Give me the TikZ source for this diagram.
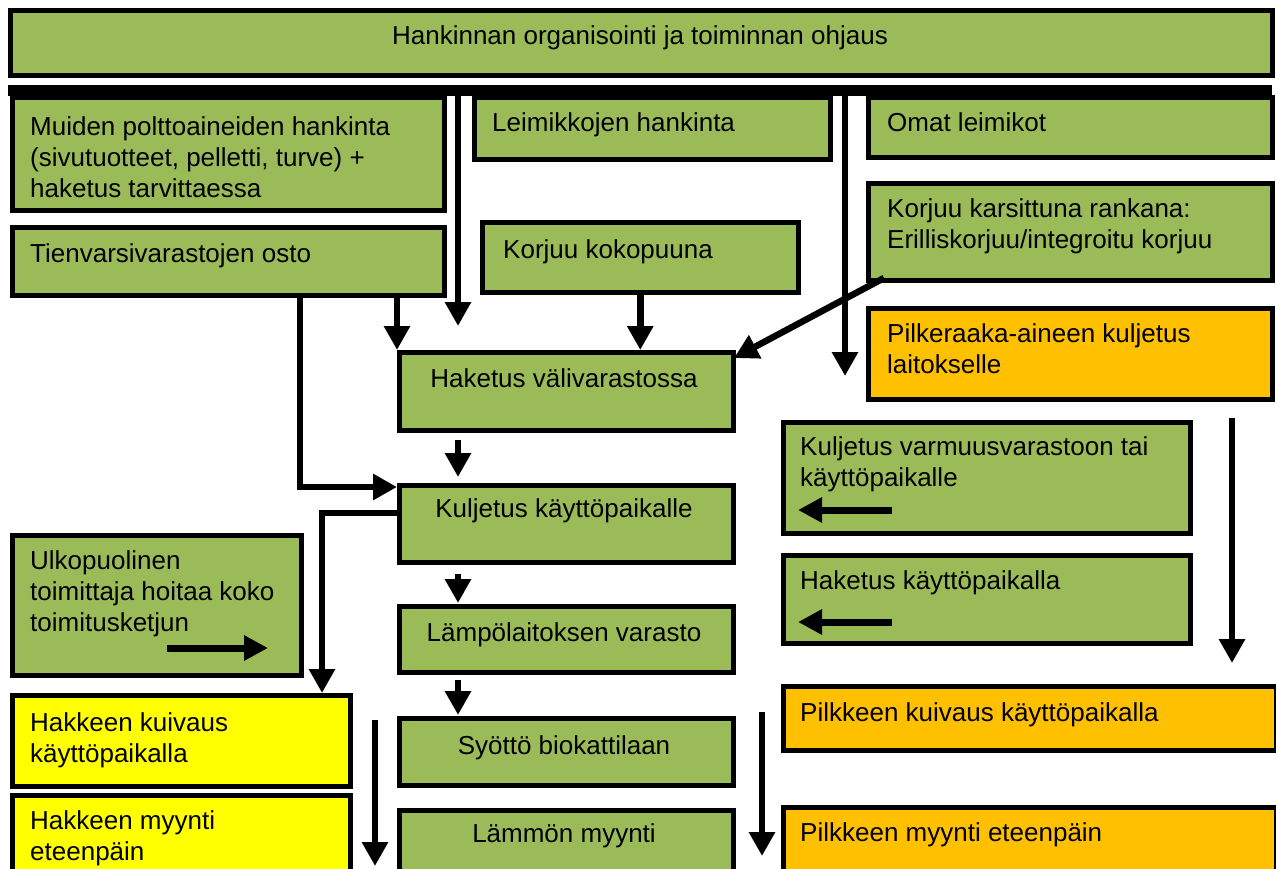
\documentclass[tikz,border=0pt]{standalone}
\usepackage{fontspec}
\setmainfont{Liberation Sans}
\usetikzlibrary{arrows.meta,calc}
\definecolor{gr}{HTML}{9BBB59}
\definecolor{ye}{HTML}{FFFF00}
\definecolor{og}{HTML}{FFC000}
\newcommand{\mlines}[1]{\parbox[t]{420pt}{\raggedright\fontsize{26}{31}\selectfont #1}}
\begin{document}
\begin{tikzpicture}[x=1pt,y=-1pt,
  box/.style={draw=black, line width=4.5pt, inner sep=0pt, anchor=north west},
  gbox/.style={box, fill=gr},
  ybox/.style={box, fill=ye},
  obox/.style={box, fill=og},
  txt/.style={inner sep=0pt, anchor=base west, font=\fontsize{26}{31}\selectfont},
  ctxt/.style={txt, anchor=base},
  arr/.style={line width=6.5pt, -{Triangle[width=25pt,length=24pt]}},
  iarr/.style={line width=7pt, -{Triangle[width=24pt,length=24pt]}},
]
\useasboundingbox (0,0) rectangle (1276,868);
\clip (0,0) rectangle (1276,868);

% boxes
\node[gbox, minimum width=1262pt, minimum height=65pt] (top) at (8,8) {};
\node[fill=black, inner sep=0pt, anchor=north west, minimum width=1264pt, minimum height=11pt] (bar) at (8,85) {};
\node[gbox, minimum width=432pt, minimum height=113pt] (muiden) at (10,95) {};
\node[gbox, minimum width=356pt, minimum height=62pt] (leim) at (472,95) {};
\node[gbox, minimum width=404pt, minimum height=60pt] (omat) at (866,95) {};
\node[gbox, minimum width=432pt, minimum height=68pt] (tien) at (10,225) {};
\node[gbox, minimum width=316pt, minimum height=70pt] (kk) at (480,220) {};
\node[gbox, minimum width=404pt, minimum height=97pt] (kars) at (866,181) {};
\node[obox, minimum width=404pt, minimum height=91pt] (pilk) at (866,306) {};
\node[gbox, minimum width=334pt, minimum height=78pt] (hv) at (397,350) {};
\node[gbox, minimum width=334pt, minimum height=77pt] (kulj) at (397,483) {};
\node[gbox, minimum width=334pt, minimum height=66pt] (lampo) at (397,604) {};
\node[gbox, minimum width=334pt, minimum height=67pt] (syotto) at (397,716) {};
\node[gbox, minimum width=334pt, minimum height=80pt] (lammon) at (397,808) {};
\node[gbox, minimum width=289pt, minimum height=140pt] (ulko) at (10,533) {};
\node[ybox, minimum width=338pt, minimum height=91pt] (hkk) at (10,693) {};
\node[ybox, minimum width=338pt, minimum height=90pt] (hkm) at (10,793) {};
\node[gbox, minimum width=407pt, minimum height=111pt] (kv) at (781,420) {};
\node[gbox, minimum width=407pt, minimum height=88pt] (hkp) at (781,553) {};
\node[obox, minimum width=493pt, minimum height=64pt] (pk) at (781,684) {};
\node[obox, minimum width=493pt, minimum height=80pt] (pm) at (781,805) {};

% texts
\node[ctxt] (ttop) at (640,44) {Hankinnan organisointi ja toiminnan ohjaus};
\node[txt] (tmuiden) at (30,135) {\mlines{Muiden polttoaineiden hankinta\\(sivutuotteet, pelletti, turve) +\\haketus tarvittaessa}};
\node[txt] (tleim) at (492,131) {Leimikkojen hankinta};
\node[txt] (tomat) at (887,131) {Omat leimikot};
\node[txt] (ttien) at (30,262) {Tienvarsivarastojen osto};
\node[txt] (tkk) at (503,258) {Korjuu kokopuuna};
\node[txt] (tkars) at (887,217) {\mlines{Korjuu karsittuna rankana:\\Erilliskorjuu/integroitu korjuu}};
\node[txt] (tpilk) at (887,342) {\mlines{Pilkeraaka-aineen kuljetus\\laitokselle}};
\node[ctxt] (thv) at (564,387) {Haketus välivarastossa};
\node[ctxt] (tkulj) at (564,517) {Kuljetus käyttöpaikalle};
\node[ctxt] (tlampo) at (564,641) {Lämpölaitoksen varasto};
\node[ctxt] (tsyotto) at (564,754) {Syöttö biokattilaan};
\node[ctxt] (tlammon) at (564,842) {Lämmön myynti};
\node[txt] (tulko) at (30,569) {\mlines{Ulkopuolinen\\toimittaja hoitaa koko\\toimitusketjun}};
\node[txt] (thkk) at (30,731) {\mlines{Hakkeen kuivaus\\käyttöpaikalla}};
\node[txt] (thkm) at (30,829) {\mlines{Hakkeen myynti\\eteenpäin}};
\node[txt] (tkv) at (800,455) {\mlines{Kuljetus varmuusvarastoon tai\\käyttöpaikalle}};
\node[txt] (thkp) at (800,589) {Haketus käyttöpaikalla};
\node[txt] (tpk) at (800,721) {Pilkkeen kuivaus käyttöpaikalla};
\node[txt] (tpm) at (800,841) {Pilkkeen myynti eteenpäin};

% free-end coordinates
\coordinate (e1) at (458,326);
\coordinate (e2) at (845,376);
\coordinate (c4) at (300,487);
\coordinate (c10) at (322,513);
\coordinate (d0) at (884,278);
\coordinate (d1) at (734,358);
\coordinate (f1s) at (375,720);
\coordinate (f1e) at (375,866);
\coordinate (f2s) at (762,712);
\coordinate (f2e) at (762,856);
\coordinate (f3s) at (1232,418);
\coordinate (f3e) at (1232,663);
\coordinate (i1s) at (167,648);
\coordinate (i1e) at (268,648);
\coordinate (i2s) at (892,510);
\coordinate (i2e) at (798,510);
\coordinate (i3s) at (892,622);
\coordinate (i3e) at (798,622);

% connectors
\draw[arr] (bar.south -| e1) -- (e1);
\draw[arr] (bar.south -| e2) -- (e2);
\draw[arr] (tien.south -| hv.north west) -- (hv.north west);
\draw[arr, line join=miter] (tien.south -| c4) -- (c4) -- (c4 -| kulj.west);
\draw[arr] (kk.south) -- (kk.south |- hv.north);
\draw[arr] (d0) -- (d1);
\draw[arr, shorten <=7pt, shorten >=6pt] (hv.south -| e1) -- (kulj.north -| e1);
\draw[arr, shorten <=9pt, shorten >=1pt] (kulj.south -| e1) -- (lampo.north -| e1);
\draw[arr, shorten <=5pt, shorten >=1pt] (lampo.south -| e1) -- (syotto.north -| e1);
\draw[arr, line join=miter] (c10 -| kulj.west) -- (c10) -- (c10 |- hkk.north);
\draw[arr] (f1s) -- (f1e);
\draw[arr] (f2s) -- (f2e);
\draw[arr] (f3s) -- (f3e);
\draw[iarr] (i1s) -- (i1e);
\draw[iarr] (i2s) -- (i2e);
\draw[iarr] (i3s) -- (i3e);
\end{tikzpicture}
\end{document}
